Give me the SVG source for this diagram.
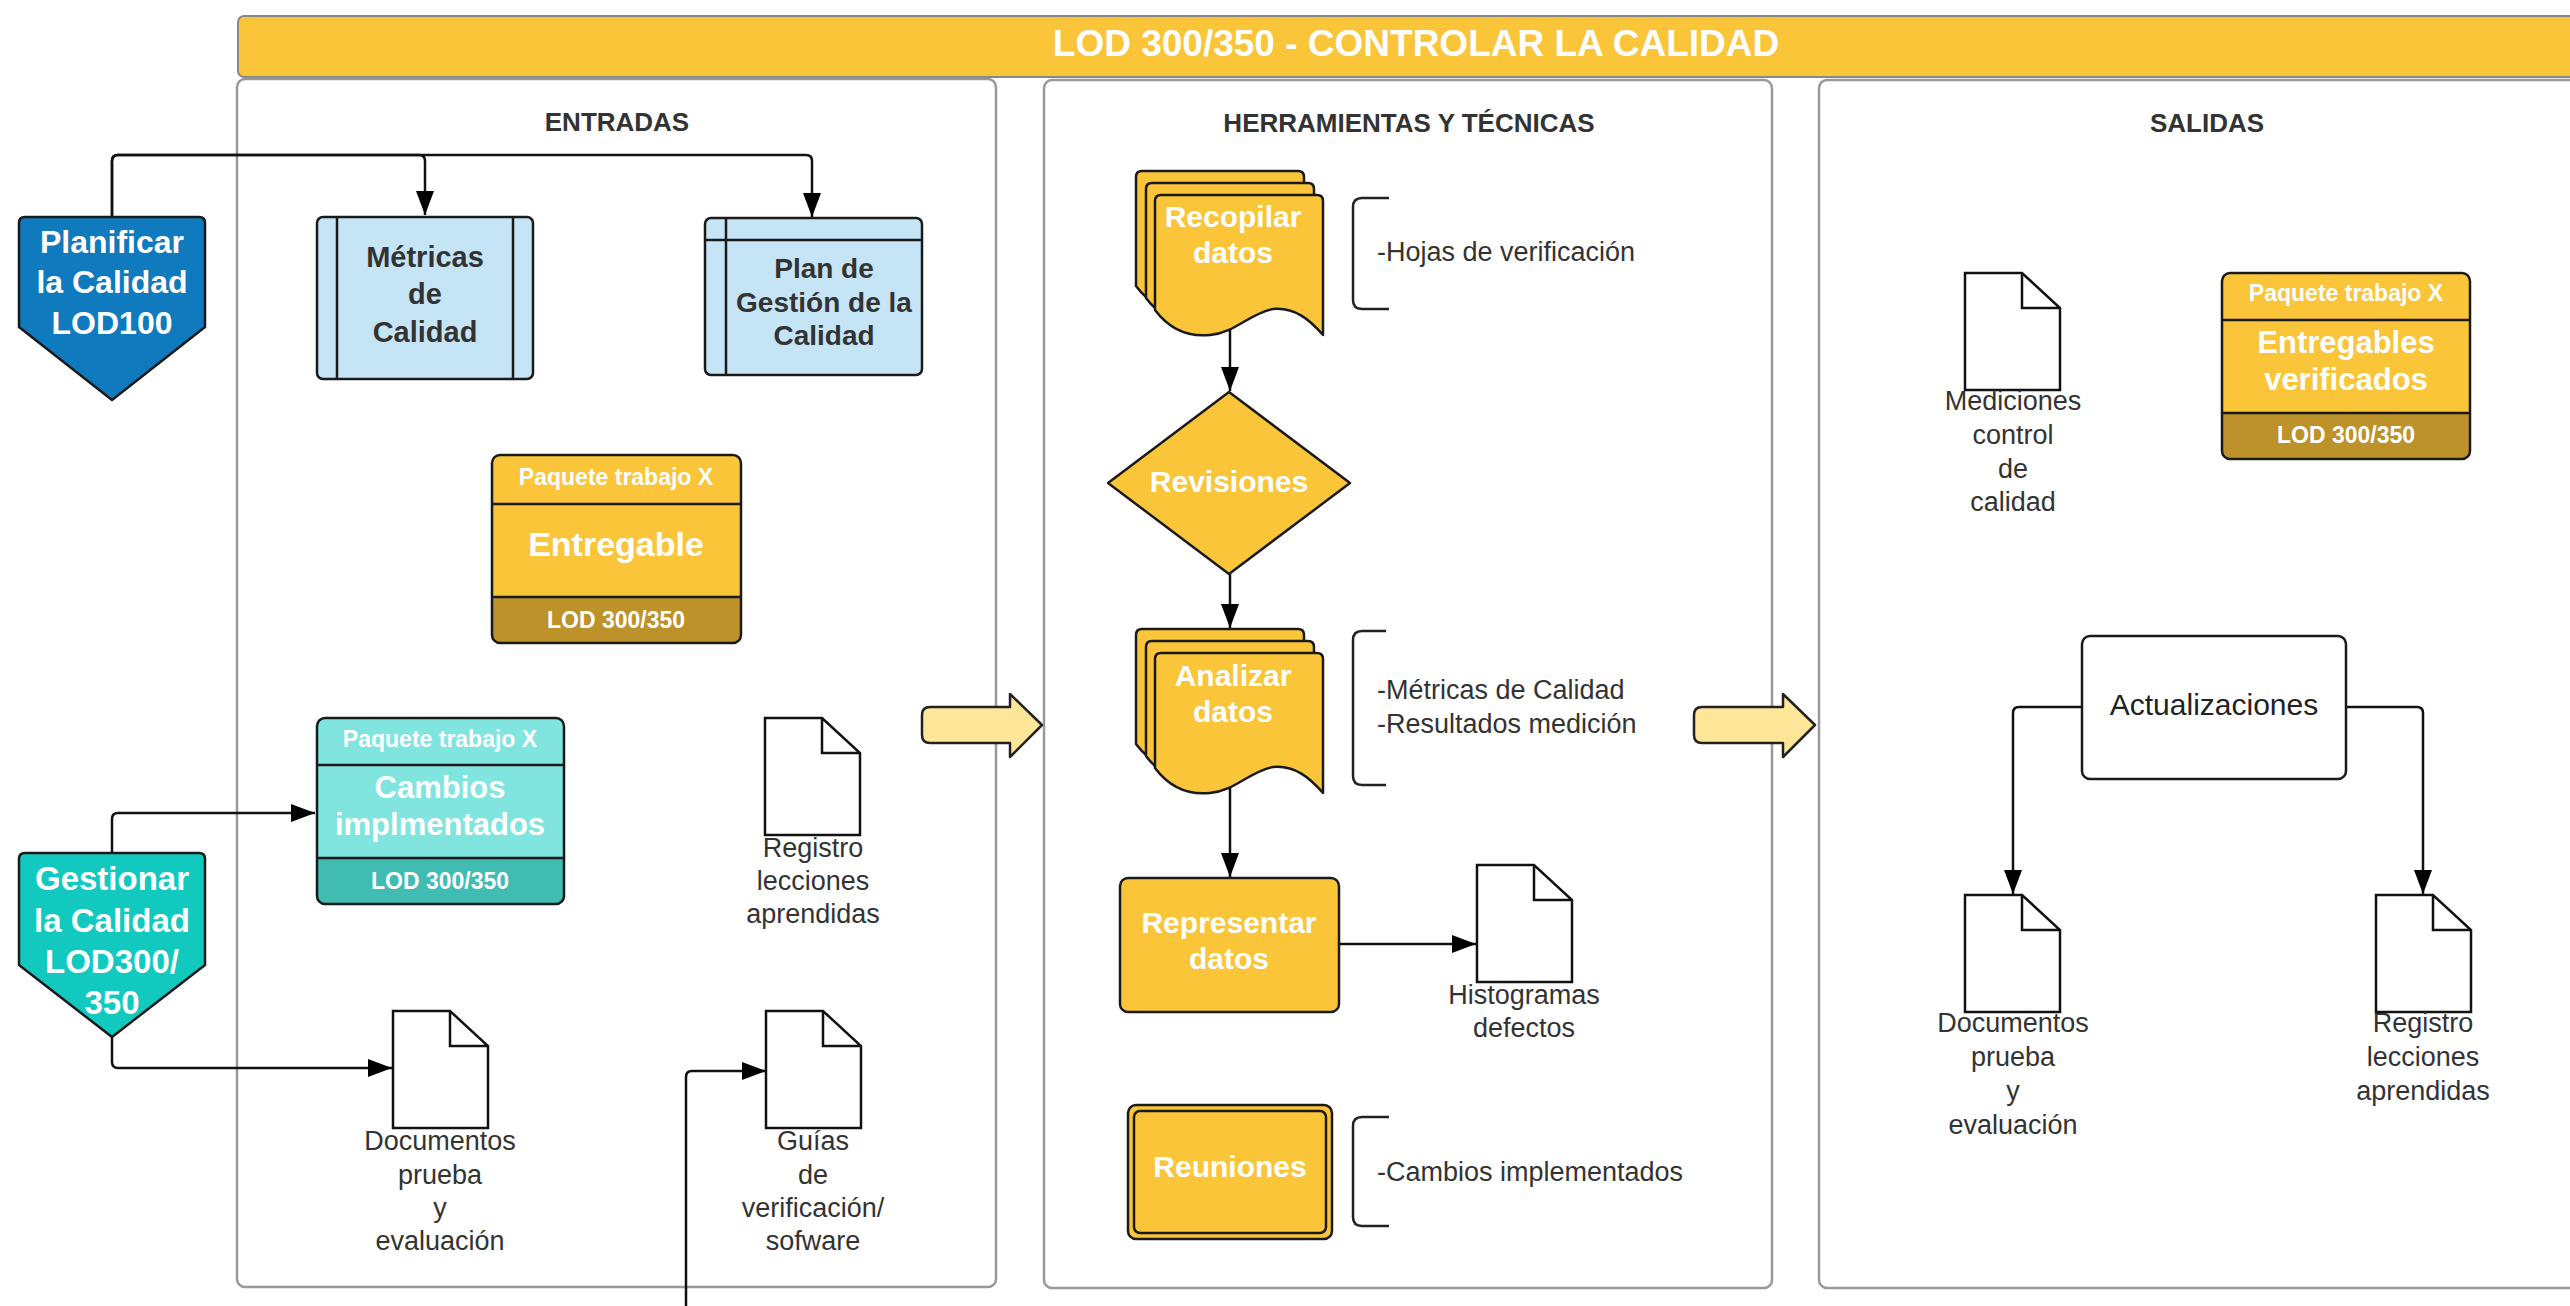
<svg xmlns="http://www.w3.org/2000/svg" width="2570" height="1306" viewBox="0 0 2570 1306">
<defs>
<style>
text{font-family:"Liberation Sans",Arial,sans-serif;text-anchor:middle}
.title{font-size:37px;font-weight:bold;fill:#fff}
.hdr{font-size:26px;font-weight:bold;fill:#333}
.panel{fill:#fff;stroke:#999;stroke-width:2.5}
.wb{font-weight:bold;fill:#fff}
.db{font-weight:bold;fill:#333}
.lbl{font-size:27px;fill:#333}
.br{font-size:27px;fill:#333;text-anchor:start}
.doc{fill:#fff;stroke:#111;stroke-width:2.5;stroke-linejoin:miter}
.shape{stroke:#1a1a1a;stroke-width:2.5;stroke-linejoin:round}
.conn{fill:none;stroke:#111;stroke-width:2.5}
.brk{fill:none;stroke:#222;stroke-width:2.5}
.blk{fill:#FFE699;stroke:#222;stroke-width:2.5;stroke-linejoin:round}
.yel{fill:#FBC53A}
.gold{fill:#BE922A}
.tq{fill:#80E5DF}
.tqd{fill:#40BCB2}
</style>
<marker id="ah" markerUnits="userSpaceOnUse" markerWidth="24" markerHeight="18" refX="24" refY="9" orient="auto">
<path d="M0,0 L24,9 L0,18 Z" fill="#000"/>
</marker>
<path id="docshape" d="M0,0 H57 L95,35 V117 H0 Z M57,0 V35 H95"/>
<path id="mdoc" d="M6,0 H162 Q168,0 168,6 V140 C155,125 140,112 118,114 C95,118 80,138 55,140 C35,142 15,135 0,115 V6 Q0,0 6,0 Z"/>
</defs>

<rect x="0" y="0" width="2570" height="1306" fill="#fff"/>

<!-- Title bar -->
<g id="title">
<rect x="238" y="16" width="2380" height="61" rx="6" fill="#FBC53A" stroke="#888" stroke-width="2"/>
<text class="title" x="1416" y="56">LOD 300/350 - CONTROLAR LA CALIDAD</text>
</g>

<!-- Panels -->
<g id="panel-entradas">
<rect class="panel" x="237" y="79" width="759" height="1208" rx="8"/>
<text class="hdr" x="617" y="131">ENTRADAS</text>
</g>
<g id="panel-herramientas">
<rect class="panel" x="1044" y="80" width="728" height="1208" rx="8"/>
<text class="hdr" x="1409" y="132">HERRAMIENTAS Y TÉCNICAS</text>
</g>
<g id="panel-salidas">
<rect class="panel" x="1819" y="80" width="800" height="1208" rx="8"/>
<text class="hdr" x="2207" y="132">SALIDAS</text>
</g>

<!-- Connectors -->
<g id="connectors">
<path class="conn" d="M112,217 V161 Q112,155 118,155 H419 Q425,155 425,161 V215" marker-end="url(#ah)"/>
<path class="conn" d="M112,217 V161 Q112,155 118,155 H806 Q812,155 812,161 V217" marker-end="url(#ah)"/>
<path class="conn" d="M112,853 V819 Q112,813 118,813 H315" marker-end="url(#ah)"/>
<path class="conn" d="M112,1037 V1062 Q112,1068 118,1068 H392" marker-end="url(#ah)"/>
<path class="conn" d="M686,1306 V1077 Q686,1071 692,1071 H766" marker-end="url(#ah)"/>
<path class="conn" d="M1230,330 V391" marker-end="url(#ah)"/>
<path class="conn" d="M1230,574 V628" marker-end="url(#ah)"/>
<path class="conn" d="M1230,786 V877" marker-end="url(#ah)"/>
<path class="conn" d="M1339,944 H1476" marker-end="url(#ah)"/>
<path class="conn" d="M2082,707 H2019 Q2013,707 2013,713 V894" marker-end="url(#ah)"/>
<path class="conn" d="M2346,707 H2417 Q2423,707 2423,713 V894" marker-end="url(#ah)"/>
</g>

<!-- Block arrows -->
<g id="arrow-1">
<path class="blk" d="M930,707 H1010 V694 L1042,725 L1010,757 V743 H930 Q922,743 922,735 V715 Q922,707 930,707 Z"/>
</g>
<g id="arrow-2">
<path class="blk" d="M1702,707 H1783 V694 L1815,725 L1783,757 V743 H1702 Q1694,743 1694,735 V715 Q1694,707 1702,707 Z"/>
</g>

<!-- ENTRADAS nodes -->
<g id="planificar">
<path class="shape" fill="#0F7ABD" d="M25,217 H199 Q205,217 205,223 V327 L112,400 L19,327 V223 Q19,217 25,217 Z"/>
<text class="wb" font-size="32" x="112" y="253">Planificar</text>
<text class="wb" font-size="32" x="112" y="293">la Calidad</text>
<text class="wb" font-size="32" x="112" y="334">LOD100</text>
</g>

<g id="gestionar">
<path class="shape" fill="#12C9BF" d="M25,853 H199 Q205,853 205,859 V965 L112,1037 L19,965 V859 Q19,853 25,853 Z"/>
<text class="wb" font-size="33" x="112" y="890">Gestionar</text>
<text class="wb" font-size="33" x="112" y="932">la Calidad</text>
<text class="wb" font-size="33" x="112" y="973">LOD300/</text>
<text class="wb" font-size="33" x="112" y="1014">350</text>
</g>

<g id="metricas">
<rect class="shape" fill="#C5E4F6" x="317" y="217" width="216" height="162" rx="6"/>
<path class="shape" fill="none" d="M337,217 V379 M513,217 V379"/>
<text class="db" font-size="29" x="425" y="267">Métricas</text>
<text class="db" font-size="29" x="425" y="304">de</text>
<text class="db" font-size="29" x="425" y="342">Calidad</text>
</g>

<g id="plan-gestion">
<rect class="shape" fill="#C5E4F6" x="705" y="218" width="217" height="157" rx="6"/>
<path class="shape" fill="none" d="M726,218 V375 M705,240 H922"/>
<text class="db" font-size="28" x="824" y="278">Plan de</text>
<text class="db" font-size="28" x="824" y="312">Gestión de la</text>
<text class="db" font-size="28" x="824" y="345">Calidad</text>
</g>

<g id="entregable">
<rect class="yel" x="492" y="455" width="249" height="188" rx="8"/>
<path class="gold" d="M492,597 H741 V635 Q741,643 733,643 H500 Q492,643 492,635 Z"/>
<path class="shape" fill="none" d="M492,504 H741 M492,597 H741"/>
<rect class="shape" fill="none" x="492" y="455" width="249" height="188" rx="8"/>
<text class="wb" font-size="23" x="616" y="485">Paquete trabajo X</text>
<text class="wb" font-size="34" x="616" y="556">Entregable</text>
<text class="wb" font-size="23" x="616" y="628">LOD 300/350</text>
</g>

<g id="cambios">
<rect class="tq" x="317" y="718" width="247" height="186" rx="8"/>
<path class="tqd" d="M317,858 H564 V896 Q564,904 556,904 H325 Q317,904 317,896 Z"/>
<path class="shape" fill="none" d="M317,765 H564 M317,858 H564"/>
<rect class="shape" fill="none" x="317" y="718" width="247" height="186" rx="8"/>
<text class="wb" font-size="23" x="440" y="747">Paquete trabajo X</text>
<text class="wb" font-size="31" x="440" y="798">Cambios</text>
<text class="wb" font-size="31" x="440" y="835">implmentados</text>
<text class="wb" font-size="23" x="440" y="889">LOD 300/350</text>
</g>

<g id="registro-entradas">
<use href="#docshape" class="doc" x="765" y="718"/>
<text class="lbl" x="813" y="857">Registro</text>
<text class="lbl" x="813" y="890">lecciones</text>
<text class="lbl" x="813" y="923">aprendidas</text>
</g>

<g id="documentos-entradas">
<use href="#docshape" class="doc" x="393" y="1011"/>
<text class="lbl" x="440" y="1150">Documentos</text>
<text class="lbl" x="440" y="1184">prueba</text>
<text class="lbl" x="440" y="1217">y</text>
<text class="lbl" x="440" y="1250">evaluación</text>
</g>

<g id="guias">
<use href="#docshape" class="doc" x="766" y="1011"/>
<text class="lbl" x="813" y="1150">Guías</text>
<text class="lbl" x="813" y="1184">de</text>
<text class="lbl" x="813" y="1217">verificación/</text>
<text class="lbl" x="813" y="1250">sofware</text>
</g>

<!-- HERRAMIENTAS nodes -->
<g id="recopilar">
<use href="#mdoc" class="shape yel" x="1136" y="171"/>
<use href="#mdoc" class="shape yel" x="1146" y="183"/>
<use href="#mdoc" class="shape yel" x="1155" y="195"/>
<text class="wb" font-size="30" x="1233" y="227">Recopilar</text>
<text class="wb" font-size="30" x="1233" y="263">datos</text>
</g>

<g id="revisiones">
<path class="shape yel" d="M1229,392 L1350,483 L1229,574 L1108,483 Z"/>
<text class="wb" font-size="30" x="1229" y="492">Revisiones</text>
</g>

<g id="analizar">
<use href="#mdoc" class="shape yel" x="1136" y="629"/>
<use href="#mdoc" class="shape yel" x="1146" y="641"/>
<use href="#mdoc" class="shape yel" x="1155" y="653"/>
<text class="wb" font-size="30" x="1233" y="686">Analizar</text>
<text class="wb" font-size="30" x="1233" y="722">datos</text>
</g>

<g id="representar">
<rect class="shape yel" x="1120" y="878" width="219" height="134" rx="8"/>
<text class="wb" font-size="30" x="1229" y="933">Representar</text>
<text class="wb" font-size="30" x="1229" y="969">datos</text>
</g>

<g id="histogramas">
<use href="#docshape" class="doc" x="1477" y="865"/>
<text class="lbl" x="1524" y="1004">Histogramas</text>
<text class="lbl" x="1524" y="1037">defectos</text>
</g>

<g id="reuniones">
<rect class="shape yel" x="1128" y="1105" width="204" height="134" rx="8"/>
<rect class="shape" fill="none" x="1134" y="1111" width="192" height="122" rx="6"/>
<text class="wb" font-size="30" x="1230" y="1177">Reuniones</text>
</g>

<g id="bracket-hojas">
<path class="brk" d="M1389,198 H1362 Q1353,198 1353,207 V300 Q1353,309 1362,309 H1389"/>
<text class="br" x="1377" y="261">-Hojas de verificación</text>
</g>
<g id="bracket-metricas">
<path class="brk" d="M1386,631 H1362 Q1353,631 1353,640 V776 Q1353,785 1362,785 H1386"/>
<text class="br" x="1377" y="699">-Métricas de Calidad</text>
<text class="br" x="1377" y="733">-Resultados medición</text>
</g>
<g id="bracket-cambios">
<path class="brk" d="M1389,1117 H1362 Q1353,1117 1353,1126 V1217 Q1353,1226 1362,1226 H1389"/>
<text class="br" x="1377" y="1181">-Cambios implementados</text>
</g>

<!-- SALIDAS nodes -->
<g id="mediciones">
<use href="#docshape" class="doc" x="1965" y="273"/>
<text class="lbl" x="2013" y="410">Mediciones</text>
<text class="lbl" x="2013" y="444">control</text>
<text class="lbl" x="2013" y="478">de</text>
<text class="lbl" x="2013" y="511">calidad</text>
</g>

<g id="entregables-verificados">
<rect class="yel" x="2222" y="273" width="248" height="186" rx="8"/>
<path class="gold" d="M2222,413 H2470 V451 Q2470,459 2462,459 H2230 Q2222,459 2222,451 Z"/>
<path class="shape" fill="none" d="M2222,320 H2470 M2222,413 H2470"/>
<rect class="shape" fill="none" x="2222" y="273" width="248" height="186" rx="8"/>
<text class="wb" font-size="23" x="2346" y="301">Paquete trabajo X</text>
<text class="wb" font-size="31" x="2346" y="353">Entregables</text>
<text class="wb" font-size="31" x="2346" y="390">verificados</text>
<text class="wb" font-size="23" x="2346" y="443">LOD 300/350</text>
</g>

<g id="actualizaciones">
<rect class="shape" fill="#fff" x="2082" y="636" width="264" height="143" rx="8"/>
<text font-size="30" fill="#222" x="2214" y="715">Actualizaciones</text>
</g>

<g id="documentos-salidas">
<use href="#docshape" class="doc" x="1965" y="895"/>
<text class="lbl" x="2013" y="1032">Documentos</text>
<text class="lbl" x="2013" y="1066">prueba</text>
<text class="lbl" x="2013" y="1100">y</text>
<text class="lbl" x="2013" y="1134">evaluación</text>
</g>

<g id="registro-salidas">
<use href="#docshape" class="doc" x="2376" y="895"/>
<text class="lbl" x="2423" y="1032">Registro</text>
<text class="lbl" x="2423" y="1066">lecciones</text>
<text class="lbl" x="2423" y="1100">aprendidas</text>
</g>
</svg>
